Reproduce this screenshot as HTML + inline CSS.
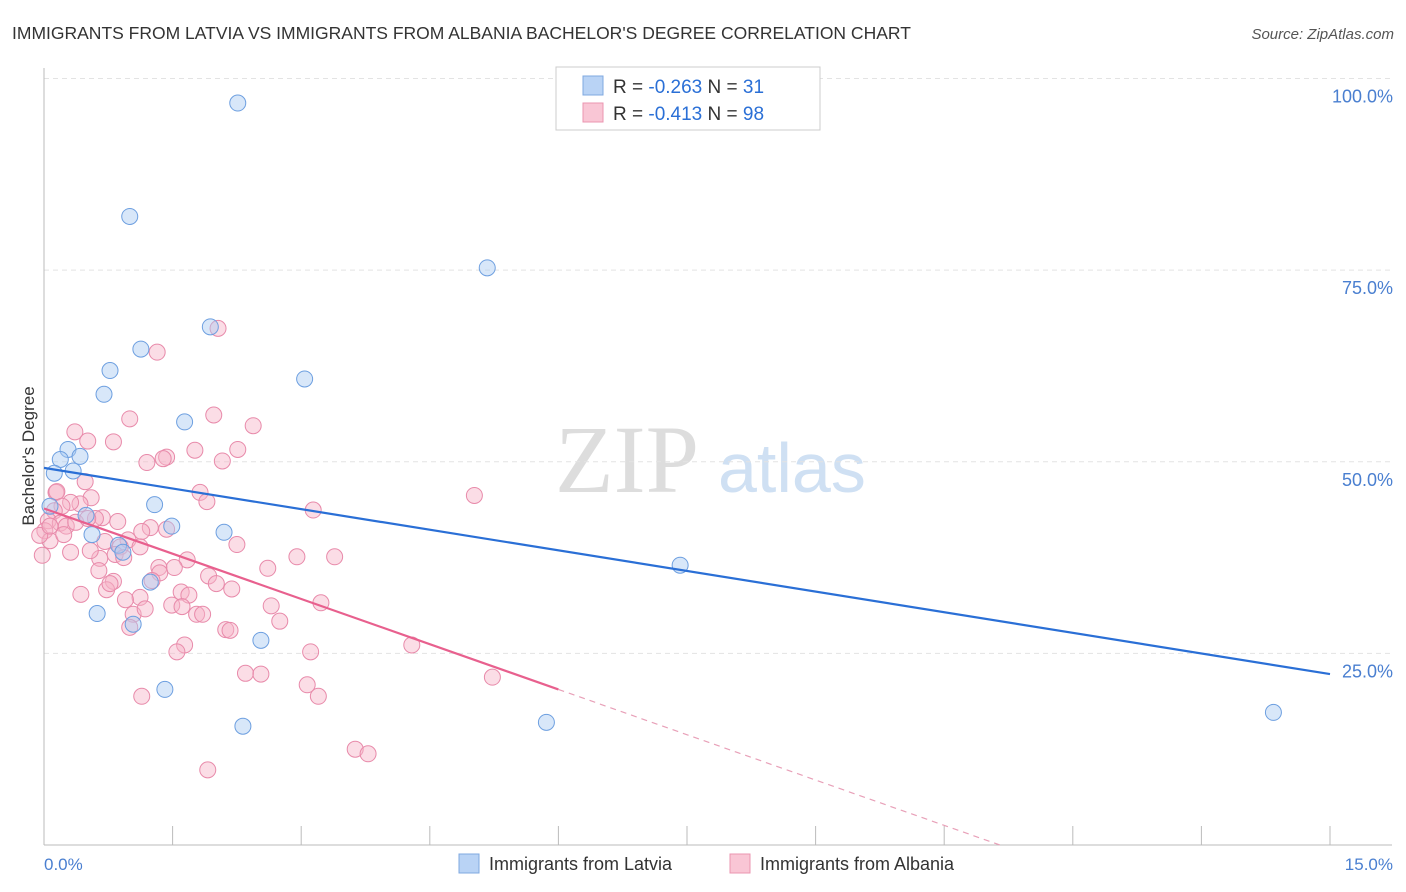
<!DOCTYPE html>
<html><head><meta charset="utf-8"><style>
body{margin:0;background:#fff;font-family:"Liberation Sans",sans-serif}
svg{display:block}
</style></head><body>
<svg width="1406" height="892" xmlns="http://www.w3.org/2000/svg">
<text x="12" y="39" font-size="17.5" fill="#333">IMMIGRANTS FROM LATVIA VS IMMIGRANTS FROM ALBANIA BACHELOR'S DEGREE CORRELATION CHART</text>
<text x="1394" y="39" font-size="15" fill="#555" font-style="italic" text-anchor="end">Source: ZipAtlas.com</text>
<g>
<text x="555" y="492" font-size="96" fill="#ddd" font-family="Liberation Serif,serif">ZIP</text>
<text x="718" y="492" font-size="70" fill="#cfe0f3">atlas</text>
</g>
<g id="grid"></g>
<line x1="44" y1="68" x2="44" y2="845" stroke="#bbb"/>
<line x1="44" y1="845" x2="1392" y2="845" stroke="#bbb"/>
<g id="xticks"></g>
<g id="yticks"></g>
<text x="34" y="456" font-size="17" fill="#333" text-anchor="middle" transform="rotate(-90 34 456)">Bachelor's Degree</text>
<text x="44" y="870" font-size="17" fill="#4a7fd0">0.0%</text>
<text x="1393" y="870" font-size="17" fill="#4a7fd0" text-anchor="end">15.0%</text>
<g id="pink"></g>
<g id="blue"></g>
<g id="lines"></g>
<g>
<rect x="556" y="67" width="264" height="63" fill="#fff" stroke="#ccc"/>
<rect x="583" y="76" width="20" height="19" fill="#b9d3f5" stroke="#7fa8e0"/>
<rect x="583" y="103" width="20" height="19" fill="#f9c6d5" stroke="#eb95b0"/>
<text x="613" y="93" font-size="19" fill="#333">R = <tspan fill="#2a6fd6">-0.263</tspan>   N = <tspan fill="#2a6fd6"> 31</tspan></text>
<text x="613" y="120" font-size="19" fill="#333">R = <tspan fill="#2a6fd6">-0.413</tspan>   N = <tspan fill="#2a6fd6">98</tspan></text>
</g>
<g>
<rect x="459" y="854" width="20" height="19" fill="#b9d3f5" stroke="#7fa8e0"/>
<text x="489" y="870" font-size="18" fill="#333">Immigrants from Latvia</text>
<rect x="730" y="854" width="20" height="19" fill="#f9c6d5" stroke="#eb95b0"/>
<text x="760" y="870" font-size="18" fill="#333">Immigrants from Albania</text>
</g>
</svg>
<script>
const yTicks=[25,50,75,100];
const xTickVals=[0,1.5,3,4.5,6,7.5,9,10.5,12,13.5,15];
const latviaX=[2.26,1.0,5.17,1.94,1.13,0.77,3.04,0.7,1.64,0.28,0.19,0.42,0.34,0.12,1.29,0.49,1.49,2.1,0.56,0.87,0.92,1.24,0.62,1.04,2.53,1.41,2.32,5.86,7.42,14.34,0.07];
const latviaY=[96.8,82.0,75.3,67.6,64.7,61.9,60.8,58.8,55.2,51.6,50.3,50.7,48.8,48.5,44.4,43.0,41.6,40.8,40.5,39.1,38.2,34.3,30.2,28.8,26.7,20.3,15.5,16.0,36.5,17.3,44.2];
const albaniaX=[2.03,1.32,1.0,1.98,2.44,0.36,0.51,0.81,2.26,1.43,1.76,2.08,1.2,1.39,0.14,0.15,0.48,0.55,0.42,0.31,0.21,0.12,0.05,0.19,0.26,0.01,0.07,-0.05,1.82,1.9,3.14,5.02,0.86,0.68,1.24,1.14,1.43,0.98,0.71,0.89,2.25,0.31,0.65,0.54,0.83,0.93,0.64,1.67,1.52,1.34,2.61,2.95,3.39,1.92,2.01,2.19,1.35,1.26,0.81,0.73,1.12,1.6,1.69,1.49,1.61,3.23,2.65,2.75,1.04,1.78,1.85,1.0,2.12,2.17,1.64,1.55,3.11,4.29,2.35,2.53,3.07,3.2,5.23,1.14,1.91,3.63,3.78,0.43,1.12,0.6,0.95,0.07,-0.02,0.23,0.37,0.51,0.77,1.18];
const albaniaY=[67.4,64.3,55.6,56.1,54.7,53.9,52.7,52.6,51.6,50.6,51.5,50.1,49.9,50.4,46.0,46.1,47.4,45.3,44.5,44.7,44.2,43.6,42.3,42.0,41.6,41.0,39.7,40.4,46.0,44.8,43.7,45.6,42.2,42.7,41.4,40.9,41.2,39.8,39.6,38.9,39.2,38.2,37.4,38.4,37.9,37.5,35.8,37.2,36.2,36.2,36.1,37.6,37.6,35.1,34.1,33.4,35.5,34.5,34.4,33.3,32.3,33.0,32.6,31.3,31.1,31.6,31.2,29.2,30.1,30.1,30.1,28.4,28.1,28.0,26.1,25.2,25.2,26.1,22.4,22.3,20.9,19.4,21.9,19.4,9.8,12.5,11.9,32.7,38.9,42.6,32.0,41.6,37.8,40.5,42.1,42.6,34.1,30.8];
const latviaLine=[[0,49.2],[15,22.3]];
const albaniaLine=[[0,43.9],[6,20.3]];
const albaniaDash=[[6,20.3],[11.15,0]];
const sx=v=>44+v/15*1286, sy=v=>845-v/100*766.5;
const NS='http://www.w3.org/2000/svg';
function mk(t,a,p){const e=document.createElementNS(NS,t);for(const k in a)e.setAttribute(k,a[k]);p.appendChild(e);return e;}
const grid=document.getElementById('grid'),yt=document.getElementById('yticks'),xt=document.getElementById('xticks');
yTicks.forEach(v=>{const l=mk('line',{x1:44,x2:1392,y1:sy(v),y2:sy(v),stroke:'#e3e3e3','stroke-dasharray':'5,4'},grid);


const t=mk('text',{x:1393,y:sy(v)+24,'font-size':18,fill:'#4a7fd0','text-anchor':'end'},yt);t.textContent=v.toFixed(1)+'%';

});
xTickVals.forEach(v=>{const l=mk('line',{x1:sx(v),x2:sx(v),y1:826,y2:845,stroke:'#bbb'},xt);

});
function pts(xs,ys,g,fill,stroke,name){xs.forEach((x,i)=>{const c=mk('circle',{cx:sx(x),cy:sy(ys[i]),r:8,fill:fill,'fill-opacity':0.45,stroke:stroke,'stroke-width':1},g);

});}
pts(albaniaX,albaniaY,document.getElementById('pink'),'#f6b3c8','#e88aaa','albania-point');
pts(latviaX,latviaY,document.getElementById('blue'),'#a9c9f2','#6d9fe0','latvia-point');
const lg=document.getElementById('lines');
function ln(p,c,w,d,name){const l=mk('line',{x1:sx(p[0][0]),y1:sy(p[0][1]),x2:sx(p[1][0]),y2:sy(p[1][1]),stroke:c,'stroke-width':w},lg);if(d)l.setAttribute('stroke-dasharray',d);

}
ln(latviaLine,'#2a6fd6',2.2,null,'latvia-trend-line');
ln(albaniaLine,'#e8608e',2.2,null,'albania-trend-line');
ln(albaniaDash,'#e8a0b8',1.2,'6,5','albania-trend-extension');
</script>
</body></html>
